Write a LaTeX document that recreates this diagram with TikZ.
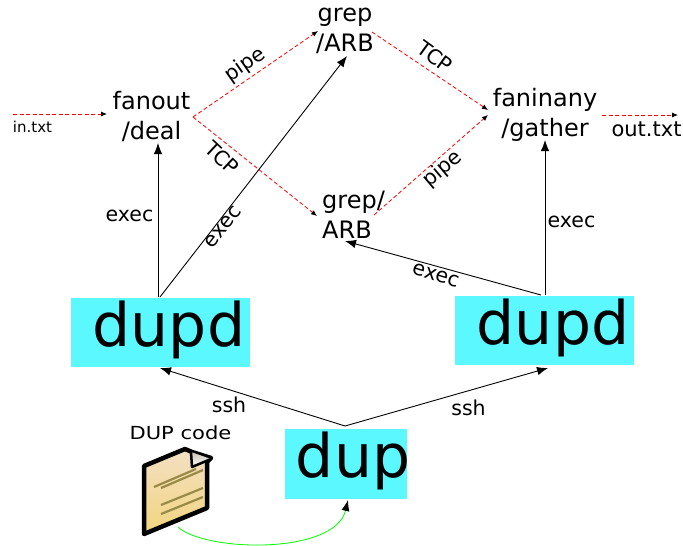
\documentclass[tikz,border=0pt]{standalone}
\usepackage{fontspec}
\setmainfont{DejaVu Sans}
\usetikzlibrary{arrows.meta}
\definecolor{boxcyan}{HTML}{5CF8FF}
\definecolor{notetop}{HTML}{F3DFC4}
\definecolor{notebot}{HTML}{F2D67E}
\definecolor{noteline}{HTML}{9A8A48}
\tikzset{
  x=1pt,y=-1pt,
  proc/.style={inner sep=0pt,align=center,font=\fontsize{24}{30}\selectfont},
  lbl/.style={inner sep=0pt,font=\fontsize{20.5}{24}\selectfont},
  bigtext/.style={inner sep=0pt,font=\fontsize{60}{66}\selectfont},
  ctl/.style={draw=black,line width=0.9pt,-{Latex[length=11pt,width=8.5pt]}},
  datared/.style={draw=red,line width=0.8pt,dash pattern=on 4pt off 2.5pt,-{Latex[length=6pt,width=5pt,black]}},
}
\begin{document}
\begin{tikzpicture}
\useasboundingbox (0,0) rectangle (683,546);
% boxes
\fill[boxcyan] (71,298) rectangle (250,367);
\fill[boxcyan] (455,296) rectangle (634,365);
\fill[boxcyan] (285,429) rectangle (407,499);
\node[bigtext] (dupl) at (169,330) {dupd};
\node[bigtext] (dupr) at (553,328) {dupd};
\node[bigtext] (dup) at (353,461) {dup};
% process nodes
\node[proc] (fanout) at (151.5,116.5) {fanout\\/deal};
\node[proc] (grepa) at (345,31) {grep\\/ARB};
\node[proc,align=left] (grepb) at (353.5,215) {grep/\\ARB};
\node[proc] (fanin) at (545,115) {faninany\\/gather};
% connector ends
\coordinate (inS) at (13,114);
\coordinate (inE) at (107,114);
\coordinate (fo) at (193,117);
\coordinate (gaW) at (318,31);
\coordinate (gbW) at (317,216);
\coordinate (gaE) at (372,32);
\coordinate (gbE) at (374,215);
\coordinate (fiT) at (488,110);
\coordinate (fiB) at (488,115);
\coordinate (outS) at (602,115);
\coordinate (outE) at (678,115);
\coordinate (dlA) at (158,297);
\coordinate (dlB) at (160,297);
\coordinate (foS) at (158,143);
\coordinate (gaS) at (347,56);
\coordinate (drA) at (545,295);
\coordinate (drB) at (541,295);
\coordinate (fiS) at (545,140);
\coordinate (gbS) at (345,241);
\coordinate (dupT) at (345,426);
\coordinate (dlS) at (160,368);
\coordinate (drS) at (548,368);
\coordinate (docS) at (178,527);
\coordinate (dupS) at (348,500);
% red dashed
\draw[datared] (inS) -- (inE);
\draw[datared] (fo) -- (gaW);
\draw[datared] (fo) -- (gbW);
\draw[datared] (gaE) -- (fiT);
\draw[datared] (gbE) -- (fiB);
\draw[datared] (outS) -- (outE);
% black
\draw[ctl] (dlA) -- (foS);
\draw[ctl] (dlB) -- (gaS);
\draw[ctl] (drA) -- (fiS);
\draw[ctl] (drB) -- (gbS);
\draw[ctl] (dupT) -- (dlS);
\draw[ctl] (dupT) -- (drS);
% green
\draw[draw=green,line width=0.8pt,-{Latex[length=11pt,width=8pt,black]}] (docS) .. controls (205,552) and (335,555) .. (dupS);
% labels
\node[inner sep=0pt,font=\fontsize{15}{18}\selectfont] (intxt) at (32.5,127) {in.txt};
\node[inner sep=0pt,font=\fontsize{21}{24}\selectfont] (outtxt) at (646.5,129) {out.txt};
\node[lbl] (l1) at (129.5,215.5) {exec};
\node[lbl,rotate=52] (l2) at (223,227) {exec};
\node[lbl] (l3) at (571.5,221.5) {exec};
\node[lbl,rotate=-17] (l4) at (436,275.5) {exec};
\node[lbl,rotate=35] (l5) at (245,65) {pipe};
\node[lbl,rotate=-43] (l6) at (222,158) {TCP};
\node[lbl,rotate=-36] (l7) at (435,57) {TCP};
\node[lbl,rotate=40] (l8) at (443,169) {pipe};
\node[lbl] (l9) at (229,404.5) {ssh};
\node[lbl] (l10) at (468.5,407.5) {ssh};
\node[inner sep=0pt,font=\fontsize{18}{22}\selectfont,xscale=1.17] (code) at (180.5,433) {DUP code};
% document icon
\path[top color=notetop,bottom color=notebot,draw=black,line width=4.5pt,line join=round]
  (144,534) -- (144,466) -- (185,449) -- (192,452) -- (211,458) -- (207,462) -- (207,508) -- cycle;
\path[top color=notetop!70!black!60!white,bottom color=white!90!notetop,draw=none]
  (191,452) -- (192,467) -- (211,459) -- cycle;
\draw[black,line width=2.5pt,line join=round] (191,452) -- (192,467) -- (211,459);
\draw[noteline,line width=2.2pt] (154,487) -- (196,469);
\draw[noteline,line width=2.2pt] (161,488) -- (203,470);
\draw[noteline,line width=2.2pt] (161,505) -- (203,488);
\draw[noteline,line width=2.2pt] (161,514) -- (203,497);
\end{tikzpicture}
\end{document}
